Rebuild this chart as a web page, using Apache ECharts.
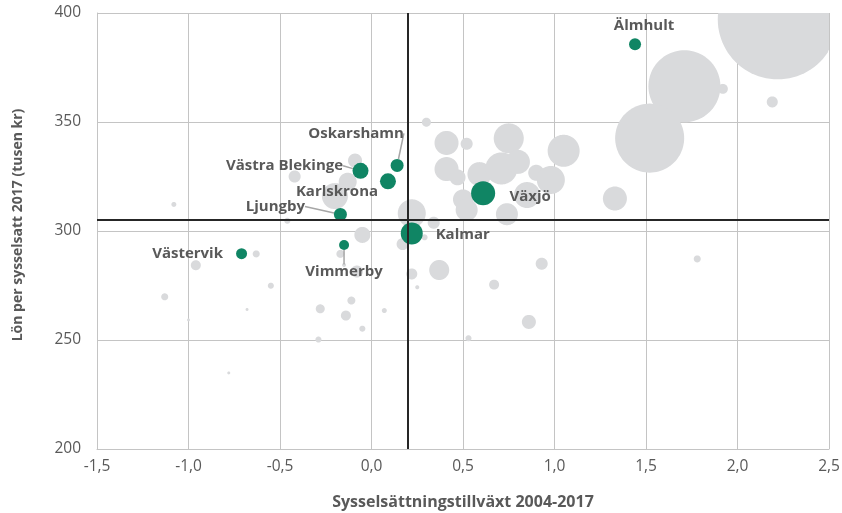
<!DOCTYPE html>
<html>
<head>
<meta charset="utf-8">
<script src="https://cdn.jsdelivr.net/npm/echarts@6/dist/echarts.min.js"></script>
<style>
  html, body { margin: 0; padding: 0; background: #fff; }
  #main { width: 842px; height: 513px; }
</style>
</head>
<body>
<div id="main"></div>
<script>
// highlighted municipalities
const hlNames = ['Älmhult', 'Oskarshamn', 'Västra Blekinge', 'Karlskrona', 'Ljungby', 'Växjö', 'Kalmar', 'Västervik', 'Vimmerby'];
const hlGrowth = [1.44, 0.14, -0.06, 0.09, -0.17, 0.61, 0.22, -0.71, -0.15];
const hlWage = [385.7, 330.1, 327.6, 322.8, 307.6, 317.3, 298.9, 289.6, 293.6];
const hlEmployed = [10, 11.7, 17.7, 17.7, 11.7, 40, 33.5, 8.4, 6.9];

// other municipalities / regions (grey)
const otherGrowth = [
  2.22, 1.71, 1.52, 1.92, 2.19, 1.78, 1.33, 1.05, 0.75, 0.52,
  0.41, 0.30, 0.41, 0.47, 0.59, 0.71, 0.80, 0.90, 0.98, 0.85,
  0.50, 0.52, 0.74, 0.34, 0.22, 0.29, 0.17, -0.05, -0.09, -0.13,
  -0.20, -0.42, -0.46, -1.08, -0.63, -0.96, -0.55, -1.13, -0.68, -1.00,
  -0.78, -0.17, -0.15, -0.08, -0.11, -0.28, -0.14, 0.07, -0.05, -0.29,
  0.37, 0.22, 0.25, 0.67, 0.93, 0.86, 0.53
];
const otherWage = [
  397.1, 366.4, 342.6, 365.2, 359.2, 287.2, 314.9, 336.8, 342.5, 340.0,
  340.4, 349.9, 328.4, 324.6, 326.1, 328.7, 331.7, 326.7, 323.4, 316.5,
  314.5, 309.6, 307.7, 303.8, 308.1, 297.1, 294.0, 298.2, 332.3, 322.6,
  316.0, 325.0, 304.7, 312.2, 289.5, 284.3, 274.9, 269.8, 264.0, 259.2,
  234.9, 289.5, 284.4, 281.4, 268.1, 264.3, 261.2, 263.5, 255.2, 250.2,
  282.1, 280.3, 274.2, 275.4, 285.0, 258.3, 250.8
];
const otherEmployed = [
  997, 359, 330, 6.9, 8.4, 3.4, 39.9, 70.9, 62.3, 10,
  39.9, 5.6, 39.9, 17.7, 39.9, 70.9, 39.9, 17.7, 54.3, 46.8,
  27.7, 33.5, 33.5, 10, 54.3, 2.5, 10, 17.7, 13.6, 22.4,
  46.8, 10, 2.5, 1.7, 3.4, 6.9, 2.5, 3.4, 0.6, 0.6,
  0.6, 4.4, 1.1, 10, 4.4, 5.6, 6.9, 1.7, 2.5, 2.5,
  27.7, 8.4, 1.1, 6.9, 10, 13.6, 2.5
];

// reference lines (medians)
const refGrowth = 0.2;
const refWage = 305;

const xTicks = { min: -1.5, max: 2.5, interval: 0.5 };
const yTicks = { min: 200, max: 400, interval: 50 };

// label placement relative to the bubble centre
const labelShift = {
  'Älmhult': [9, -18],
  'Oskarshamn': [-41, -32],
  'Västra Blekinge': [-76, -5],
  'Karlskrona': [-51, 10],
  'Ljungby': [-65, -8],
  'Växjö': [47, 3],
  'Kalmar': [51, 1],
  'Västervik': [-54, 0],
  'Vimmerby': [0, 27],
};
// leader lines: where on the label box they start [fx, fy, gapX, gapY]
const leaderFrom = {
  'Oskarshamn': [0.67, 1, 0, 0],
  'Västra Blekinge': [1, 0.5, 2, 0],
  'Ljungby': [1, 0.5, 3, 0],
  'Vimmerby': [0.5, 0, 0, -4],
};

const myChart = echarts.init(document.getElementById('main'));

const sizeOf = (v) => 3.8 * Math.sqrt(v); // bubble diameter in px
const textGrey = '#595959';
const font = '"Open Sans", sans-serif';

const greyData = otherGrowth.map((x, i) => [x, otherWage[i], otherEmployed[i]]);
const greenData = hlNames.map((name, i) => ({
  name: name,
  value: [hlGrowth[i], hlWage[i], hlEmployed[i]],
  labelLine: { show: name in leaderFrom },
}));

// circle outline, squeezed into the plot rect (keeps big bubbles inside the frame)
const clippedCircle = (cx, cy, r, cs) => {
  const pts = [];
  for (let k = 0; k < 96; k++) {
    const a = (k / 96) * Math.PI * 2;
    const px = Math.min(Math.max(cx + r * Math.cos(a), cs.x), cs.x + cs.width);
    const py = Math.min(Math.max(cy + r * Math.sin(a), cs.y), cs.y + cs.height);
    pts.push([px, py]);
  }
  return pts;
};

const option = {
  animation: false,
  grid: { left: 97, right: 13, top: 13, bottom: 64, outerBoundsMode: 'none', containLabel: false },
  xAxis: {
    type: 'value',
    min: xTicks.min,
    max: xTicks.max,
    interval: xTicks.interval,
    name: 'Sysselsättningstillväxt 2004-2017',
    nameLocation: 'middle',
    nameGap: 45,
    nameTextStyle: { color: textGrey, fontWeight: 'bold', fontSize: 16, fontFamily: font },
    axisLine: { show: true, onZero: false, lineStyle: { color: '#c4c4c4' } },
    axisTick: { show: false },
    axisLabel: {
      color: textGrey,
      fontSize: 15.5,
      fontFamily: font,
      margin: 10,
      formatter: (v) => v.toFixed(1).replace('.', ','),
    },
    splitLine: { show: true, lineStyle: { color: '#c4c4c4', width: 1 } },
  },
  yAxis: {
    type: 'value',
    min: yTicks.min,
    max: yTicks.max,
    interval: yTicks.interval,
    name: 'Lön per sysselsatt 2017 (tusen kr)',
    nameLocation: 'middle',
    nameGap: 72,
    nameTextStyle: { color: textGrey, fontWeight: 'bold', fontSize: 14, fontFamily: font, padding: [0, 0, 0, 12] },
    axisLine: { show: true, onZero: false, lineStyle: { color: '#c4c4c4' } },
    axisTick: { show: false },
    axisLabel: { color: textGrey, fontSize: 15.5, fontFamily: font, margin: 16 },
    splitLine: { show: true, lineStyle: { color: '#c4c4c4', width: 1 } },
  },
  series: [
    {
      // only carries the two median lines, below the bubbles
      name: 'ref',
      type: 'scatter',
      data: [],
      z: 1,
      markLine: {
        silent: true,
        symbol: 'none',
        label: { show: false },
        lineStyle: { color: '#262626', width: 2, type: 'solid' },
        data: [{ xAxis: refGrowth }, { yAxis: refWage }],
      },
    },
    {
      name: 'Övriga',
      type: 'custom',
      z: 2,
      data: greyData,
      encode: { x: 0, y: 1 },
      renderItem: (params, api) => {
        const p = api.coord([api.value(0), api.value(1)]);
        const r = sizeOf(api.value(2)) / 2;
        return {
          type: 'polygon',
          shape: { points: clippedCircle(p[0], p[1], r, params.coordSys) },
          style: { fill: '#d9dadc' },
        };
      },
    },
    {
      name: 'Utvalda',
      type: 'scatter',
      z: 3,
      data: greenData,
      symbolSize: (val) => sizeOf(val[2]),
      itemStyle: { color: '#108564', opacity: 1 },
      label: {
        show: true,
        position: 'inside',
        formatter: '{b}',
        color: textGrey,
        fontWeight: 'bold',
        fontSize: 15,
        fontFamily: font,
      },
      labelLine: {
        show: false,
        lineStyle: { color: '#a6a6a6', width: 1.5 },
      },
      labelLayout: (params) => {
        const name = hlNames[params.dataIndex];
        const s = labelShift[name];
        const out = { dx: s[0], dy: s[1] };
        const f = leaderFrom[name];
        if (f) {
          const lr = params.labelRect;
          const r = params.rect;
          out.labelLinePoints = [
            [lr.x + s[0] + lr.width * f[0] + f[2], lr.y + s[1] + lr.height * f[1] + f[3]],
            [r.x + r.width / 2, r.y + r.height / 2],
          ];
        }
        return out;
      },
    },
  ],
};

myChart.setOption(option);
</script>
</body>
</html>
